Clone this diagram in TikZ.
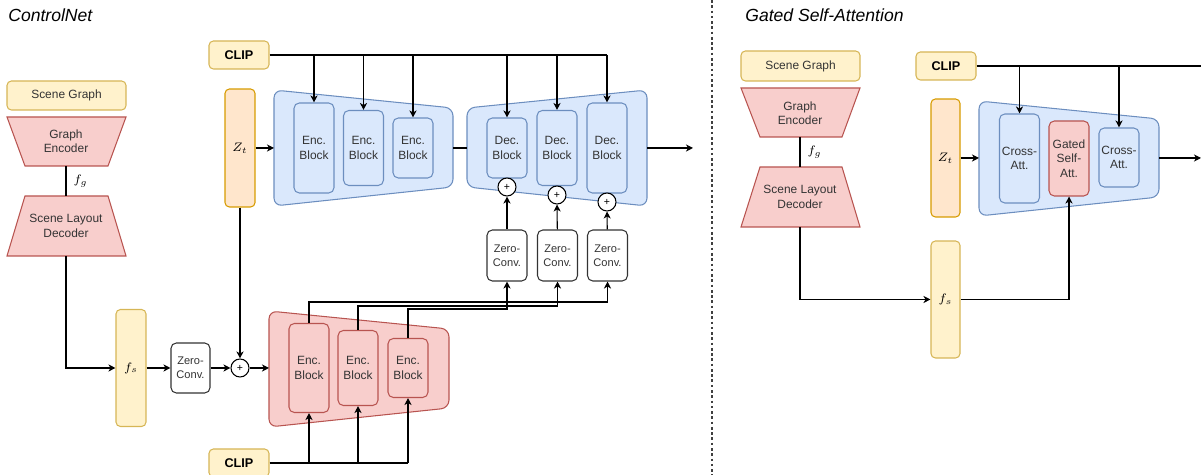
\documentclass[tikz,border=0pt]{standalone}
\usepackage{fontspec}
\setmainfont{Liberation Sans}
\usepackage{tikz}
\usetikzlibrary{positioning,calc,arrows.meta}

\definecolor{yelfill}{HTML}{FFF2CC}
\definecolor{yelline}{HTML}{D6B656}
\definecolor{orfill}{HTML}{FFE6CC}
\definecolor{orline}{HTML}{D79B00}
\definecolor{blufill}{HTML}{DAE8FC}
\definecolor{bluline}{HTML}{6C8EBF}
\definecolor{redfill}{HTML}{F8CECC}
\definecolor{redline}{HTML}{B85450}
\definecolor{txtgray}{HTML}{333333}

\tikzset{
  lbl/.style={font=\fontsize{6.8}{8.2}\selectfont, text=txtgray, align=center, inner sep=0pt},
  mlbl/.style={font=\fontsize{7.5}{9}\selectfont, inner sep=0pt},
  title/.style={font=\fontsize{10}{12}\selectfont\itshape, anchor=west, inner sep=0pt},
  yelbox/.style={lbl, draw=yelline, fill=yelfill, rounded corners=2.5pt, line width=0.6pt},
  clipbox/.style={yelbox, text=black, font=\fontsize{7.2}{8.5}\selectfont\bfseries,
    minimum width=1.2cm, minimum height=0.56cm},
  latbox/.style={mlbl, draw=orline, fill=orfill, rounded corners=2.5pt, line width=0.6pt,
    minimum width=0.6cm, minimum height=2.36cm},
  featbox/.style={mlbl, draw=yelline, fill=yelfill, rounded corners=2.5pt, line width=0.6pt,
    minimum width=0.6cm, minimum height=2.34cm},
  blublk/.style={lbl, draw=bluline, fill=blufill, rounded corners=3pt, line width=0.6pt,
    minimum width=0.8cm},
  redblk/.style={lbl, draw=redline, fill=redfill, rounded corners=3pt, line width=0.6pt,
    minimum width=0.8cm},
  zcbox/.style={lbl, font=\fontsize{6.3}{8}\selectfont, draw=txtgray, fill=white,
    rounded corners=3pt, line width=0.6pt, minimum width=0.8cm, minimum height=1.02cm},
  plus/.style={circle, draw=black, fill=white, line width=0.6pt, inner sep=0pt,
    minimum size=0.36cm, font=\fontsize{6}{6}\selectfont},
  bluetrap/.style={draw=bluline, fill=blufill, line width=0.6pt, rounded corners=4.5pt},
  redtrap/.style={draw=redline, fill=redfill, line width=0.6pt},
  redbody/.style={redtrap, rounded corners=4.5pt},
  conn/.style={draw=black, line width=0.6pt},
  arr/.style={conn, -{Stealth[length=4pt,width=4pt,inset=1.2pt]}},
  sep/.style={draw=black!75, line width=0.6pt, dash pattern=on 1.5pt off 1.5pt}
}

\begin{document}
\begin{tikzpicture}[x=0.02cm, y=-0.02cm]
\useasboundingbox (0,0) rectangle (1201,475);

% ---- ControlNet ----
\node[title] (ttl1) at (8,15) {ControlNet};

\node[yelbox, minimum width=2.38cm, minimum height=0.58cm] (sg1) at (66.5,95.5) {Scene Graph};
\draw[redtrap] (7,117) -- (126,117) -- (108,166) -- (25,166) -- cycle;
\node[lbl] (genc1) at (66,141) {Graph\\Encoder};
\draw[redtrap] (25,196) -- (108,196) -- (126,256) -- (7,256) -- cycle;
\node[lbl] (sld1) at (66,226) {Scene Layout\\Decoder};
\coordinate (genc1b) at (66,166);
\coordinate (sld1t) at (66,196);
\coordinate (sld1b) at (66,256);
\draw[conn] (genc1b) -- node[mlbl, right=0.14cm] {$f_g$} (sld1t);

\node[featbox] (fs1) at (131,368) {$f_s$};
\node[zcbox, minimum width=0.78cm, minimum height=1cm] (zc0) at (190.5,368) {Zero-\\Conv.};
\node[plus] (p0) at (240,368) {+};

\node[clipbox] (clipA) at (239,55) {CLIP};
\node[latbox] (zt1) at (240,148) {$Z_t$};
\node[clipbox] (clipB) at (239,463) {CLIP};

% encoder / decoder bodies
\draw[bluetrap] (274,90) -- (453,108) -- (453,187) -- (274,206) -- cycle;
\draw[bluetrap] (467,108) -- (647,90) -- (647,206) -- (467,187) -- cycle;
\draw[redbody] (269,311) -- (449,329) -- (449,408) -- (269,427) -- cycle;
\coordinate (encAin) at (274,148);
\coordinate (encAout) at (453,148);
\coordinate (decAin) at (467,148);
\coordinate (decAout) at (647,148);
\coordinate (outA) at (693,148);
\coordinate (encBin) at (269,368);

\foreach \n/\x/\h in {eb1/314/1.8, eb2/363.5/1.5, eb3/413/1.2}
  \node[blublk, minimum height=\h cm] (\n) at (\x,148) {Enc.\\Block};
\foreach \n/\x/\h in {db1/507/1.2, db2/557/1.5, db3/607/1.8}
  \node[blublk, minimum height=\h cm] (\n) at (\x,148) {Dec.\\Block};
\foreach \n/\x/\h in {rb1/309/1.78, rb2/358/1.5, rb3/408/1.18}
  \node[redblk, minimum height=\h cm] (\n) at (\x,368) {Enc.\\Block};

\node[plus] (p1) at (507,187) {+};
\node[plus] (p2) at (557,195) {+};
\node[plus] (p3) at (607,202) {+};
\foreach \i/\x in {1/507, 2/557.5, 3/607.5}
  \node[zcbox] (zc\i) at (\x,255.5) {Zero-\\Conv.};

% connectors
\draw[arr] (sld1b) |- (fs1);
\draw[arr] (fs1) -- (zc0);
\draw[arr] (zc0) -- (p0);
\draw[arr] (zt1) -- (p0);
\draw[arr] (p0) -- (encBin);
\draw[arr] (zt1) -- (encAin);
\draw[conn] (encAout) -- (decAin);
\draw[arr] (decAout) -- (outA);

\draw[conn] (clipA) -- (clipA -| db3);
\foreach \b in {eb1,eb2,eb3,db1,db2,db3}
  \draw[arr] (clipA -| \b) -- (\b);
\foreach \i in {1,2,3}
  \draw[arr] (zc\i) -- (p\i);

\coordinate (lv1) at (0,302);
\coordinate (lv2) at (0,306);
\coordinate (lv3) at (0,309);
\foreach \r/\z/\l in {rb1/zc3/lv1, rb2/zc2/lv2, rb3/zc1/lv3}
  \draw[arr] (\r.north) -- (\r |- \l) -| (\z);

\draw[conn] (clipB) -- (clipB -| rb3);
\foreach \b in {rb1,rb2,rb3}
  \draw[arr] (clipB -| \b) -- (\b.south);

% ---- separator ----
\draw[sep] (712,0) -- (712,475);

% ---- Gated Self-Attention ----
\node[title] (ttl2) at (745,15) {Gated Self-Attention};

\node[yelbox, minimum width=2.38cm, minimum height=0.6cm] (sg2) at (800.5,66) {Scene Graph};
\draw[redtrap] (741,88) -- (860,88) -- (842,137) -- (760,137) -- cycle;
\node[lbl] (genc2) at (800,113) {Graph\\Encoder};
\draw[redtrap] (760,167) -- (842,167) -- (860,227) -- (741,227) -- cycle;
\node[lbl] (sld2) at (800,197) {Scene Layout\\Decoder};
\coordinate (genc2b) at (800,137);
\coordinate (sld2t) at (800,167);
\coordinate (sld2b) at (800,227);
\draw[conn] (genc2b) -- node[mlbl, right=0.14cm] {$f_g$} (sld2t);

\node[clipbox] (clipC) at (946,66) {CLIP};
\node[latbox, minimum width=0.58cm] (zt2) at (945.5,158) {$Z_t$};
\node[featbox, minimum width=0.58cm] (fs2) at (945.5,299.5) {$f_s$};

\draw[bluetrap] (979,101) -- (1159,119) -- (1159,197) -- (979,216) -- cycle;
\coordinate (attin) at (979,158);
\coordinate (attout) at (1159,158);
\coordinate (outB) at (1201,158);
\coordinate (clipCend) at (1201,66);

\node[blublk, minimum height=1.78cm] (ca1) at (1019.5,158.5) {Cross-\\Att.};
\node[redblk, minimum height=1.5cm] (gsa) at (1069,158.5) {Gated\\Self-\\Att.};
\node[blublk, minimum height=1.18cm] (ca2) at (1119,157.5) {Cross-\\Att.};

\draw[arr] (sld2b) |- (fs2);
\draw[arr] (zt2) -- (attin);
\draw[arr] (attout) -- (outB);
\draw[conn] (clipC) -- (clipCend);
\foreach \b in {ca1,ca2}
  \draw[arr] (clipC -| \b) -- (\b);
\draw[arr] (fs2) -| (gsa);

\end{tikzpicture}
\end{document}
